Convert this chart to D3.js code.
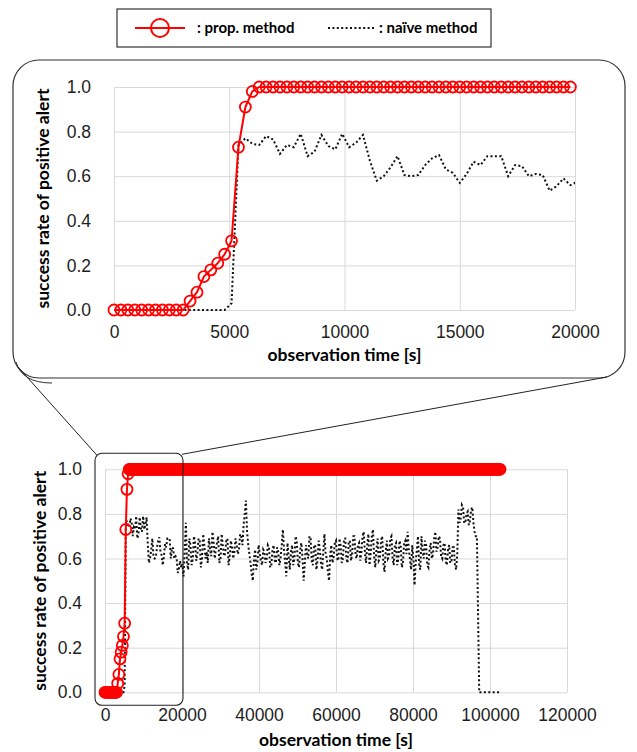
<!DOCTYPE html>
<html>
<head>
<meta charset="utf-8">
<script src="https://cdn.jsdelivr.net/npm/d3@7"></script>
<style>
  body { margin: 0; background: #fff; }
  svg { font-family: Lato, "Open Sans", sans-serif; }
  .tick text { font-size: 17.5px; fill: #1e1e1e; }
  .title { font-size: 17.5px; font-weight: bold; fill: #000; }
  .legend { font-size: 15px; font-weight: bold; fill: #000; }
</style>
</head>
<body>
<script>
// width and height of the page
var w = 637;
var h = 752;

// success rate of the proposed method, one sample every 300 s
var propStep = 300;
var propRate = [
  0, 0, 0, 0, 0, 0, 0, 0, 0, 0, 0,
  0.04, 0.08, 0.15, 0.18, 0.21, 0.25, 0.31, 0.73, 0.91, 0.98,
  1, 1, 1, 1, 1, 1, 1, 1, 1, 1, 1, 1, 1, 1, 1, 1, 1, 1, 1, 1, 1, 1, 1,
  1, 1, 1, 1, 1, 1, 1, 1, 1, 1, 1, 1, 1, 1, 1, 1, 1, 1, 1, 1, 1, 1, 1,
  1, 1, 1, 1, 1, 1, 1, 1, 1, 1, 1, 1, 1, 1, 1, 1, 1, 1, 1, 1, 1, 1, 1,
  1, 1, 1, 1, 1, 1, 1, 1, 1, 1, 1, 1, 1, 1, 1, 1, 1, 1, 1, 1, 1, 1, 1,
  1, 1, 1, 1, 1, 1, 1, 1, 1, 1, 1, 1, 1, 1, 1, 1, 1, 1, 1, 1, 1, 1, 1,
  1, 1, 1, 1, 1, 1, 1, 1, 1, 1, 1, 1, 1, 1, 1, 1, 1, 1, 1, 1, 1, 1, 1,
  1, 1, 1, 1, 1, 1, 1, 1, 1, 1, 1, 1, 1, 1, 1, 1, 1, 1, 1, 1, 1, 1, 1,
  1, 1, 1, 1, 1, 1, 1, 1, 1, 1, 1, 1, 1, 1, 1, 1, 1, 1, 1, 1, 1, 1, 1,
  1, 1, 1, 1, 1, 1, 1, 1, 1, 1, 1, 1, 1, 1, 1, 1, 1, 1, 1, 1, 1, 1, 1,
  1, 1, 1, 1, 1, 1, 1, 1, 1, 1, 1, 1, 1, 1, 1, 1, 1, 1, 1, 1, 1, 1, 1,
  1, 1, 1, 1, 1, 1, 1, 1, 1, 1, 1, 1, 1, 1, 1, 1, 1, 1, 1, 1, 1, 1, 1,
  1, 1, 1, 1, 1, 1, 1, 1, 1, 1, 1, 1, 1, 1, 1, 1, 1, 1, 1, 1, 1, 1, 1,
  1, 1, 1, 1, 1, 1, 1, 1, 1, 1, 1, 1, 1, 1, 1, 1, 1, 1, 1, 1, 1, 1, 1,
  1, 1, 1, 1, 1, 1, 1, 1, 1, 1, 1, 1, 1, 1, 1, 1, 1, 1, 1, 1, 1, 1, 1
];

// naive method, first 20000 s (every 300 s)
var naiveEarlyStep = 300;
var naiveEarly = [
  0, 0, 0, 0, 0, 0, 0, 0, 0, 0, 0, 0, 0, 0, 0, 0, 0,
  0.03, 0.74, 0.77, 0.745, 0.74, 0.78, 0.765, 0.70, 0.74, 0.73,
  0.79, 0.69, 0.71, 0.785, 0.735, 0.72, 0.79, 0.73, 0.75, 0.785,
  0.67, 0.58, 0.60, 0.64, 0.69, 0.605, 0.60, 0.605, 0.65, 0.68,
  0.695, 0.63, 0.615, 0.57, 0.61, 0.665, 0.65, 0.69, 0.69, 0.69,
  0.60, 0.65, 0.645, 0.60, 0.61, 0.605, 0.535, 0.555, 0.59, 0.56,
  0.575
];

// naive method after 20000 s (every 300 s)
var naiveLateStart = 20400;
var naiveLateStep = 300;
var naiveLate = [
  0.52, 0.64, 0.76, 0.58, 0.55, 0.69, 0.66, 0.57, 0.60, 0.70, 0.67, 0.59, 0.62, 0.69, 0.68, 0.56, 0.60, 0.71, 0.66, 0.60,
  0.63, 0.58, 0.69, 0.64, 0.61, 0.72, 0.68, 0.60, 0.64, 0.67, 0.70, 0.58, 0.60, 0.71, 0.66, 0.61, 0.62, 0.68, 0.69, 0.57,
  0.61, 0.68, 0.65, 0.60, 0.63, 0.69, 0.66, 0.62, 0.64, 0.71, 0.70, 0.66, 0.75, 0.80, 0.86, 0.72, 0.66, 0.62, 0.58, 0.53,
  0.50, 0.60, 0.64, 0.55, 0.58, 0.66, 0.62, 0.59, 0.57, 0.64, 0.63, 0.58, 0.60, 0.66, 0.65, 0.56, 0.57, 0.64, 0.66, 0.59,
  0.58, 0.65, 0.63, 0.57, 0.60, 0.66, 0.73, 0.64, 0.58, 0.52, 0.67, 0.61, 0.55, 0.63, 0.66, 0.57, 0.60, 0.70, 0.68, 0.58,
  0.56, 0.64, 0.67, 0.60, 0.50, 0.58, 0.66, 0.62, 0.60, 0.70, 0.69, 0.59, 0.57, 0.66, 0.66, 0.55, 0.59, 0.68, 0.64, 0.58,
  0.55, 0.63, 0.71, 0.62, 0.60, 0.54, 0.50, 0.62, 0.66, 0.58, 0.61, 0.67, 0.68, 0.60, 0.59, 0.69, 0.66, 0.58, 0.60, 0.69,
  0.69, 0.60, 0.58, 0.67, 0.68, 0.59, 0.62, 0.70, 0.70, 0.61, 0.60, 0.66, 0.67, 0.59, 0.63, 0.70, 0.72, 0.63, 0.58, 0.66,
  0.71, 0.57, 0.62, 0.70, 0.73, 0.61, 0.56, 0.64, 0.69, 0.59, 0.60, 0.68, 0.70, 0.58, 0.54, 0.63, 0.68, 0.60, 0.61, 0.69,
  0.70, 0.60, 0.57, 0.66, 0.67, 0.57, 0.60, 0.68, 0.66, 0.56, 0.58, 0.67, 0.68, 0.62, 0.72, 0.64, 0.60, 0.55, 0.66, 0.60,
  0.48, 0.58, 0.64, 0.70, 0.57, 0.55, 0.70, 0.63, 0.60, 0.68, 0.66, 0.57, 0.56, 0.64, 0.67, 0.60, 0.62, 0.69, 0.72, 0.63,
  0.65, 0.70, 0.69, 0.61, 0.60, 0.66, 0.67, 0.59, 0.57, 0.64, 0.66, 0.58, 0.59, 0.65, 0.65, 0.57, 0.55, 0.62, 0.82, 0.76,
  0.78, 0.84, 0.83, 0.76, 0.76, 0.80, 0.81, 0.75, 0.77, 0.82, 0.83, 0.76, 0.72, 0.70, 0.70, 0.35, 0, 0, 0, 0,
  0, 0, 0, 0, 0, 0, 0, 0, 0, 0, 0, 0, 0, 0, 0
];

// tick labels
var rateTicks = [0, 0.2, 0.4, 0.6, 0.8, 1.0];
var zoomTimeTicks = [0, 5000, 10000, 15000, 20000];
var fullTimeTicks = [0, 20000, 40000, 60000, 80000, 100000, 120000];

var prop = propRate.map(function(v, i) { return {t: i * propStep, v: v}; });
var naive = naiveEarly.map(function(v, i) { return {t: i * naiveEarlyStep, v: v}; })
  .concat(naiveLate.map(function(v, i) { return {t: naiveLateStart + i * naiveLateStep, v: v}; }));

var svg = d3.select("body")
  .append("svg")
  .attr("width", w)
  .attr("height", h);

svg.append("rect").attr("width", w).attr("height", h).attr("fill", "#fff");

// draws one panel (grid, axes, both series)
function drawPanel(x, y, timeTicks, maxTime, clipId, titleX, titleY) {
  var g = svg.append("g");
  var x0 = x.range()[0], x1 = x.range()[1];
  var y0 = y.range()[0], y1 = y.range()[1];

  // grid lines
  g.append("g")
    .attr("transform", "translate(0," + y0 + ")")
    .call(d3.axisBottom(x).tickValues(timeTicks).tickSize(y1 - y0).tickFormat(""))
    .call(function(a) { a.select(".domain").remove(); })
    .selectAll("line").attr("stroke", "#d9d9d9");
  g.append("g")
    .attr("transform", "translate(" + x0 + ",0)")
    .call(d3.axisLeft(y).tickValues(rateTicks).tickSize(x0 - x1).tickFormat(""))
    .call(function(a) { a.select(".domain").remove(); })
    .selectAll("line").attr("stroke", "#d9d9d9");

  // tick labels
  g.append("g")
    .attr("transform", "translate(0," + y0 + ")")
    .call(d3.axisBottom(x).tickValues(timeTicks).tickSize(0).tickPadding(16).tickFormat(d3.format("d")))
    .call(function(a) { a.select(".domain").remove(); })
    .selectAll("text").attr("font-family", null).attr("font-size", null);
  g.append("g")
    .attr("transform", "translate(" + x0 + ",0)")
    .call(d3.axisLeft(y).tickValues(rateTicks).tickSize(0).tickPadding(23).tickFormat(d3.format(".1f")))
    .call(function(a) { a.select(".domain").remove(); })
    .selectAll("text").attr("font-family", null).attr("font-size", null);

  // axis titles
  g.append("text")
    .attr("class", "title")
    .attr("x", (x0 + x1) / 2)
    .attr("y", titleY)
    .attr("text-anchor", "middle")
    .text("observation time [s]");
  g.append("text")
    .attr("class", "title")
    .attr("transform", "translate(" + titleX + "," + ((y0 + y1) / 2) + ") rotate(-90)")
    .attr("text-anchor", "middle")
    .attr("dy", "0.35em")
    .text("success rate of positive alert");

  // clip the series to the visible time range
  svg.append("clipPath").attr("id", clipId)
    .append("rect")
    .attr("x", x0 - 10).attr("y", y1 - 10)
    .attr("width", x1 - x0 + 10).attr("height", y0 - y1 + 20);

  var line = d3.line()
    .x(function(d) { return x(d.t); })
    .y(function(d) { return y(d.v); });

  g.append("path")
    .datum(naive.filter(function(d) { return d.t <= maxTime + 600; }))
    .attr("clip-path", "url(#" + clipId + ")")
    .attr("d", line)
    .attr("fill", "none")
    .attr("stroke", "#111")
    .attr("stroke-width", 2)
    .attr("stroke-dasharray", "2,2.4");

  var shown = prop.filter(function(d) { return d.t <= maxTime; });
  g.append("path")
    .datum(shown)
    .attr("d", line)
    .attr("fill", "none")
    .attr("stroke", "#ff0000")
    .attr("stroke-width", 2);
  g.selectAll("circle.prop")
    .data(shown)
    .enter()
    .append("circle")
    .attr("class", "prop")
    .attr("cx", function(d) { return x(d.t); })
    .attr("cy", function(d) { return y(d.v); })
    .attr("r", 5.5)
    .attr("fill", "none")
    .attr("stroke", "#ff0000")
    .attr("stroke-width", 1.8);
}

// zoomed callout box
svg.append("rect")
  .attr("x", 13).attr("y", 60)
  .attr("width", 612).attr("height", 318)
  .attr("rx", 26)
  .attr("fill", "#fff")
  .attr("stroke", "#333")
  .attr("stroke-width", 1.2);
svg.append("path")
  .attr("d", "M16,362 Q22,383 52,383")
  .attr("fill", "none")
  .attr("stroke", "#333")
  .attr("stroke-width", 1);

var xTop = d3.scaleLinear().domain([0, 20000]).range([114, 575]);
var yTop = d3.scaleLinear().domain([0, 1]).range([310, 87]);
var xBot = d3.scaleLinear().domain([0, 120000]).range([105, 567]);
var yBot = d3.scaleLinear().domain([0, 1]).range([692.3, 469.3]);

drawPanel(xTop, yTop, zoomTimeTicks, 20000, "clipTop", 43, 361);
drawPanel(xBot, yBot, fullTimeTicks, 120000, "clipBot", 40, 746);

// frame around the zoomed range of the full panel + connector lines
var fx0 = xBot(0) - 10, fx1 = xBot(20000) + 1;
var fy0 = yBot(1) - 16, fy1 = yBot(0) + 13;
svg.append("rect")
  .attr("x", fx0).attr("y", fy0)
  .attr("width", fx1 - fx0).attr("height", fy1 - fy0)
  .attr("rx", 7)
  .attr("fill", "none")
  .attr("stroke", "#222")
  .attr("stroke-width", 1.1);
svg.append("line")
  .attr("x1", 18).attr("y1", 367)
  .attr("x2", fx0 + 2).attr("y2", fy0 + 2)
  .attr("stroke", "#222");
svg.append("line")
  .attr("x1", 607).attr("y1", 377)
  .attr("x2", fx1 - 1).attr("y2", fy0 + 1)
  .attr("stroke", "#222");

// legend
var lg = svg.append("g");
lg.append("rect")
  .attr("x", 117).attr("y", 9)
  .attr("width", 374).attr("height", 38)
  .attr("fill", "#fff")
  .attr("stroke", "#333")
  .attr("stroke-width", 1.2);
lg.append("line")
  .attr("x1", 135).attr("x2", 185).attr("y1", 28).attr("y2", 28)
  .attr("stroke", "#ff0000").attr("stroke-width", 2);
lg.append("circle")
  .attr("cx", 160).attr("cy", 28).attr("r", 9)
  .attr("fill", "none").attr("stroke", "#ff0000").attr("stroke-width", 2);
lg.append("text")
  .attr("class", "legend")
  .attr("x", 197).attr("y", 28).attr("dy", "0.35em")
  .text(": prop. method");
lg.append("line")
  .attr("x1", 328).attr("x2", 375).attr("y1", 28).attr("y2", 28)
  .attr("stroke", "#111").attr("stroke-width", 2)
  .attr("stroke-dasharray", "2,2.4");
lg.append("text")
  .attr("class", "legend")
  .attr("x", 379).attr("y", 28).attr("dy", "0.35em")
  .text(": naïve method");
</script>
</body>
</html>
